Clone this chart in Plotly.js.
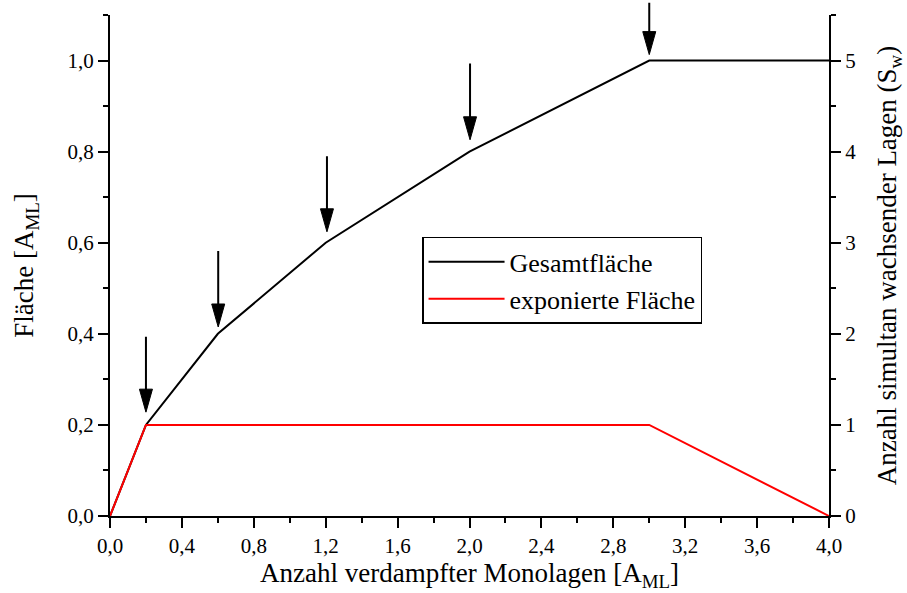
<!DOCTYPE html>
<html>
<head>
<meta charset="utf-8">
<script src="https://cdn.plot.ly/plotly-3.0.1.min.js"></script>
<style>html,body{margin:0;padding:0;background:#fff;}#chart{width:907px;height:593px;}</style>
</head>
<body>
<div id="chart"></div>
<script>
// Data
const totalX = [0, 0.2, 0.6, 1.2, 2.0, 3.0, 4.0];
const totalY = [0, 0.2, 0.4, 0.6, 0.8, 1.0, 1.0];
const exposedX = [0, 0.2, 3.0, 4.0];
const exposedY = [0, 0.2, 0.2, 0.0];
const arrowX = [0.2, 0.602, 1.207, 2.003, 3.0];
const arrowTipY = [0.228, 0.415, 0.624, 0.826, 1.013];
const arrowTailY = [0.397, 0.585, 0.793, 0.997, 1.13];
const seriesNames = ["Gesamtfläche", "exponierte Fläche"];

const font = "'Liberation Serif', 'Times New Roman', Times, serif";

// Arrow head geometry (pixels converted to data units of the axes)
const M = {l: 110, r: 78, t: 15, b: 77};
const X_RANGE = [0, 4], Y_RANGE = [0, 1.1];
const pxPerX = (907 - M.l - M.r) / (X_RANGE[1] - X_RANGE[0]);
const pxPerY = (593 - M.t - M.b) / (Y_RANGE[1] - Y_RANGE[0]);
const headHalfW = 6.5 / pxPerX;
const headLen = 23 / pxPerY;

const headX = [], headY = [];
arrowX.forEach((x, i) => {
  const tip = arrowTipY[i], base = tip + headLen;
  headX.push(x - headHalfW, x + headHalfW, x, x - headHalfW, null);
  headY.push(base, base, tip, base, null);
});

const traces = [
  {x: totalX, y: totalY, mode: 'lines', name: seriesNames[0], line: {color: '#000', width: 2}},
  {x: exposedX, y: exposedY, mode: 'lines', name: seriesNames[1], line: {color: '#ff0000', width: 2}},
  {x: headX, y: headY, mode: 'lines', fill: 'toself', fillcolor: '#000', line: {color: '#000', width: 1},
   showlegend: false, hoverinfo: 'skip'},
  {x: [0, 4], y: [0, 0], yaxis: 'y2', mode: 'lines', showlegend: false, hoverinfo: 'skip', line: {color: 'rgba(0,0,0,0)', width: 0}}
];

const annotations = arrowX.map((x, i) => ({
  x: x, y: arrowTipY[i] + headLen * 0.8, ax: x, ay: arrowTailY[i], axref: 'x', ayref: 'y', xref: 'x', yref: 'y',
  showarrow: true, arrowhead: 0, arrowwidth: 2, arrowcolor: '#000', text: ''
}));

const layout = {
  width: 907, height: 593,
  margin: M,
  paper_bgcolor: '#fff', plot_bgcolor: '#fff',
  separators: ', ',
  font: {family: font, size: 21, color: '#000'},
  showlegend: true,
  legend: {x: 0.434, y: 0.557, xanchor: 'left', yanchor: 'top', bordercolor: '#000', borderwidth: 1.5, bgcolor: '#fff',
           font: {family: font, size: 26, color: '#000'}, tracegroupgap: 0, itemwidth: 76},
  xaxis: {
    range: X_RANGE, tickvals: [0,0.4,0.8,1.2,1.6,2.0,2.4,2.8,3.2,3.6,4.0], tickformat: '.1f',
    showgrid: false, zeroline: false, showline: true, linecolor: '#000', linewidth: 2,
    ticks: 'outside', ticklen: 10, tickwidth: 2, tickcolor: '#000',
    minor: {dtick: 0.2, ticks: 'outside', ticklen: 5, tickwidth: 2, tickcolor: '#000', showgrid: false},
    title: {text: 'Anzahl verdampfter Monolagen [A<sub>ML</sub>]' + '\u00a0'.repeat(5), font: {family: font, size: 27}, standoff: 4},
    tickfont: {family: font, size: 21}
  },
  yaxis: {
    range: Y_RANGE, tickvals: [0,0.2,0.4,0.6,0.8,1.0], tickformat: '.1f',
    showgrid: false, zeroline: false, showline: true, linecolor: '#000', linewidth: 2,
    ticks: 'outside', ticklen: 10, tickwidth: 2, tickcolor: '#000',
    minor: {dtick: 0.1, ticks: 'outside', ticklen: 5, tickwidth: 2, tickcolor: '#000', showgrid: false},
    title: {text: 'Fläche [A<sub>ML</sub>]', font: {family: font, size: 27}, standoff: 26},
    tickfont: {family: font, size: 21}
  },
  yaxis2: {
    overlaying: 'y', side: 'right', range: [0, 5.5], tickvals: [0,1,2,3,4,5],
    showgrid: false, zeroline: false, showline: true, linecolor: '#000', linewidth: 2,
    ticks: 'outside', ticklen: 10, tickwidth: 2, tickcolor: '#000',
    minor: {dtick: 0.5, ticks: 'outside', ticklen: 5, tickwidth: 2, tickcolor: '#000', showgrid: false},
    title: {text: 'Anzahl simultan wachsender Lagen (S<sub>w</sub>)', font: {family: font, size: 27}, standoff: 22},
    tickfont: {family: font, size: 21}
  },
  annotations: annotations
};

Plotly.newPlot('chart', traces, layout, {displayModeBar: false, staticPlot: true});
</script>
</body>
</html>
